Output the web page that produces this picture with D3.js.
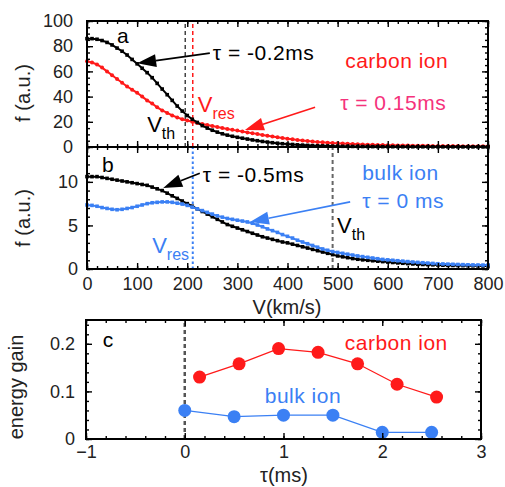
<!DOCTYPE html>
<html>
<head>
<meta charset="utf-8">
<script src="https://cdn.jsdelivr.net/npm/d3@7"></script>
<style>
  body { margin: 0; background: #fff; }
  svg { font-family: "Liberation Sans", Arial, Helvetica, sans-serif; }
</style>
</head>
<body>
<svg id="chart" width="505" height="487"></svg>
<script>
// ---------------- data ----------------
// velocity grid (km/s), one sample every 10 km/s
const velocity = d3.range(0, 801, 10);

// panel a : carbon ion distribution
const aBlack = [86, 86, 85.5, 84.5, 83, 81, 78.5, 76, 73, 69.5,
  66, 62.5, 59, 55, 50.5, 46, 41.5, 37, 32.5, 28.5,
  25, 22, 19.5, 17, 15, 13.3, 11.8, 10.5, 9.4, 8.5,
  7.7, 7, 6.3, 5.6, 5, 4.4, 3.9, 3.4, 3, 2.6,
  2.3, 2, 1.7, 1.5, 1.3, 1.1, 1, 0.9, 0.8, 0.7,
  0.6, 0.55, 0.5, 0.45, 0.4, 0.38, 0.35, 0.32, 0.3, 0.28,
  0.26, 0.25, 0.24, 0.23, 0.22, 0.21, 0.2, 0.19, 0.18, 0.17,
  0.16, 0.15, 0.15, 0.14, 0.14, 0.13, 0.13, 0.12, 0.12, 0.11, 0.11];
const aRed = [68, 67, 65.5, 63, 60, 57, 54, 51, 48, 45.5,
  43, 40, 37, 34.5, 31.5, 29, 27, 25, 23.5, 22,
  21, 20, 19, 18.2, 17.4, 16.6, 15.8, 15, 14.3, 13.6,
  13, 12.3, 11.6, 11, 10.3, 9.6, 9, 8.4, 7.8, 7.2,
  6.6, 6.1, 5.6, 5.2, 4.8, 4.4, 4, 3.7, 3.4, 3.1,
  2.9, 2.7, 2.5, 2.3, 2.1, 1.95, 1.8, 1.7, 1.6, 1.5,
  1.4, 1.3, 1.2, 1.15, 1.1, 1.05, 1, 0.95, 0.9, 0.85,
  0.8, 0.78, 0.75, 0.72, 0.7, 0.68, 0.65, 0.62, 0.6, 0.58, 0.55];

// panel b : bulk ion distribution
const bBlack = [10.6, 10.6, 10.6, 10.5, 10.4, 10.3, 10.2, 10.1, 10.0, 9.9,
  9.8, 9.7, 9.6, 9.4, 9.2, 9.0, 8.7, 8.4, 8.1, 7.8,
  7.5, 7.2, 6.9, 6.6, 6.3, 6.0, 5.7, 5.4, 5.1, 4.9,
  4.7, 4.5, 4.3, 4.1, 3.9, 3.7, 3.55, 3.4, 3.25, 3.1,
  3.0, 2.85, 2.7, 2.55, 2.4, 2.25, 2.1, 1.95, 1.8, 1.65,
  1.5, 1.4, 1.3, 1.2, 1.12, 1.05, 1.0, 0.95, 0.9, 0.85,
  0.8, 0.75, 0.7, 0.66, 0.62, 0.58, 0.55, 0.52, 0.5, 0.48,
  0.46, 0.44, 0.42, 0.41, 0.4, 0.39, 0.38, 0.37, 0.36, 0.35, 0.35];
const bBlue = [7.35, 7.3, 7.2, 7.05, 6.95, 6.85, 6.8, 6.85, 6.95, 7.05,
  7.2, 7.35, 7.5, 7.6, 7.65, 7.7, 7.7, 7.65, 7.55, 7.45,
  7.3, 7.1, 6.9, 6.7, 6.5, 6.3, 6.1, 5.95, 5.8, 5.7,
  5.6, 5.5, 5.4, 5.25, 5.05, 4.85, 4.6, 4.4, 4.2, 3.95,
  3.75, 3.55, 3.3, 3.1, 2.9, 2.7, 2.5, 2.3, 2.15, 2.0,
  1.9, 1.8, 1.7, 1.6, 1.5, 1.42, 1.34, 1.26, 1.18, 1.1,
  1.05, 1.0, 0.95, 0.9, 0.85, 0.8, 0.76, 0.72, 0.68, 0.64,
  0.6, 0.58, 0.56, 0.54, 0.52, 0.5, 0.48, 0.47, 0.46, 0.45, 0.45];

// panel c : energy gain vs delay
const tauCarbon = [0.15, 0.55, 0.95, 1.35, 1.75, 2.15, 2.55];
const gainCarbon = [0.13, 0.158, 0.19, 0.182, 0.158, 0.115, 0.088];
const tauBulk = [0, 0.5, 1, 1.5, 2, 2.5];
const gainBulk = [0.06, 0.047, 0.05, 0.05, 0.014, 0.014];

// reference velocities (km/s)
const vThA = 196, vResA = 211, vResB = 211, vThB = 490;

// ---------------- colours ----------------
const RED = "#ff1a1a", BLUE = "#3b80f4", PINK = "#f5327c", DASH = "#444";

const svg = d3.select("#chart");

// ---------------- scales ----------------
const xV = d3.scaleLinear().domain([0, 800]).range([87, 488]);
const yA = d3.scaleLinear().domain([0, 100]).range([147, 21]);
const yB = d3.scaleLinear().domain([0, 14]).range([269, 147]);
const xT = d3.scaleLinear().domain([-1, 3]).range([86, 481]);
const yC = d3.scaleLinear().domain([0, 0.25]).range([439, 320]);

// ---------------- axes helpers ----------------
const range = (a, b, s) => d3.range(a, b + s / 2, s).map((d) => +d.toFixed(4));

const drawAxes = (x, y, opt) => {
  const g = svg.append("g").attr("class", "axes");
  const [x0, x1] = x.range();
  const [y0, y1] = y.range();
  const sides = [
    { gen: d3.axisBottom, pos: `translate(0,${y0})`, sc: x, major: opt.xMajor, minor: opt.xMinor, lab: opt.xLab, fmt: opt.xFmt, pad: opt.xPad },
    { gen: d3.axisTop, pos: `translate(0,${y1})`, sc: x, major: opt.xMajor, minor: opt.xMinor, lab: false },
    { gen: d3.axisLeft, pos: `translate(${x0},0)`, sc: y, major: opt.yMajor, minor: opt.yMinor, lab: true, fmt: opt.yFmt, pad: opt.yPad },
    { gen: d3.axisRight, pos: `translate(${x1},0)`, sc: y, major: opt.yMajor, minor: opt.yMinor, lab: false },
  ];
  sides.forEach((s) => {
    const minor = g.append("g").attr("transform", s.pos)
      .call(s.gen(s.sc).tickValues(s.minor).tickSize(-3).tickFormat(""));
    const major = g.append("g").attr("transform", s.pos)
      .call(s.gen(s.sc).tickValues(s.major).tickSize(-6)
        .tickPadding(s.pad || 0).tickFormat(s.lab ? s.fmt || d3.format("") : ""));
    [minor, major].forEach((a) => {
      a.select(".domain").remove();
      a.selectAll("line").attr("stroke", "#000").attr("stroke-width", 1.4);
      a.selectAll("text").attr("fill", "#222").style("font-size", "18px");
    });
  });
  g.append("rect")
    .attr("x", x0).attr("y", y1)
    .attr("width", x1 - x0).attr("height", y0 - y1)
    .attr("fill", "none").attr("stroke", "#000").attr("stroke-width", 2);
};

const vLine = (x, y, v, color, dash, w) => {
  svg.append("line")
    .attr("x1", x(v)).attr("x2", x(v))
    .attr("y1", y.range()[0]).attr("y2", y.range()[1])
    .attr("stroke", color).attr("stroke-width", w).attr("stroke-dasharray", dash);
};

const arrow = (x1, y1, x2, y2, color) => {
  // line with a filled triangular head at (x2, y2)
  const ang = Math.atan2(y2 - y1, x2 - x1);
  const L = 19, W = 6.5;
  const bx = x2 - L * Math.cos(ang), by = y2 - L * Math.sin(ang);
  svg.append("line")
    .attr("x1", x1).attr("y1", y1).attr("x2", bx).attr("y2", by)
    .attr("stroke", color).attr("stroke-width", 1.6);
  const pts = [
    [x2, y2],
    [bx + W * Math.sin(ang), by - W * Math.cos(ang)],
    [bx - W * Math.sin(ang), by + W * Math.cos(ang)],
  ];
  svg.append("polygon").attr("points", pts.map((p) => p.join(",")).join(" ")).attr("fill", color);
};

const label = (x, y, txt, color, size) => {
  return svg.append("text").attr("x", x).attr("y", y)
    .attr("fill", color).style("font-size", (size || 21) + "px")
    .style("letter-spacing", "0.5px").text(txt);
};

const vSub = (x, y, main, sub, color) => {
  const t = svg.append("text").attr("x", x).attr("y", y).attr("fill", color).style("font-size", "22px");
  t.append("tspan").text(main);
  t.append("tspan").attr("dy", 7).style("font-size", "16px").text(sub);
};

const curve = (x, y, vals, color, marker) => {
  const pts = velocity.map((v, i) => [v, vals[i]]);
  svg.append("path").datum(pts)
    .attr("fill", "none").attr("stroke", color).attr("stroke-width", 2)
    .attr("d", d3.line().x((d) => x(d[0])).y((d) => y(d[1])));
  const s = 3.6;
  if (marker === "square") {
    svg.append("g").selectAll("rect").data(pts).join("rect")
      .attr("x", (d) => x(d[0]) - s / 2).attr("y", (d) => y(d[1]) - s / 2)
      .attr("width", s).attr("height", s).attr("fill", color);
  } else {
    svg.append("g").selectAll("circle").data(pts).join("circle")
      .attr("cx", (d) => x(d[0])).attr("cy", (d) => y(d[1])).attr("r", 2).attr("fill", color);
  }
};

// ---------------- panel a ----------------
vLine(xV, yA, vThA, DASH, "4,3", 1.5);
vLine(xV, yA, vResA, RED, "4,3", 1.5);
curve(xV, yA, aRed, RED, "circle");
curve(xV, yA, aBlack, "#000", "square");
drawAxes(xV, yA, {
  xMajor: range(0, 800, 100), xMinor: range(0, 800, 20), xLab: false,
  yMajor: range(0, 100, 20), yMinor: range(0, 100, 5), yPad: 14,
});
label(xV(60), yA(82.5), "a", "#000");
label(xV(251), yA(69), "τ = -0.2ms", "#000");
arrow(xV(245), yA(74.5), xV(100), yA(66.5), "#000");
label(xV(515), yA(62.5), "carbon ion", RED);
label(xV(505), yA(29.5), "τ = 0.15ms", PINK);
arrow(xV(455), yA(31.5), xV(315), yA(13.5), RED);
vSub(xV(221), yA(27.5), "V", "res", RED);
vSub(xV(120), yA(12), "V", "th", "#000");

// ---------------- panel b ----------------
vLine(xV, yB, vResB, BLUE, "2.5,2.5", 2);
vLine(xV, yB, vThB, "#666", "4,3", 2);
curve(xV, yB, bBlack, "#000", "square");
curve(xV, yB, bBlue, BLUE, "square");
drawAxes(xV, yB, {
  xMajor: range(0, 800, 100), xMinor: range(0, 800, 20), xLab: true, xPad: 8,
  yMajor: range(0, 10, 5), yMinor: range(0, 14, 1), yPad: 9,
});
label(xV(30), yB(11.1), "b", "#000");
label(xV(231), yB(10), "τ = -0.5ms", "#000");
arrow(xV(225), yB(11), xV(152), yB(9.3), "#000");
label(xV(549), yB(10.2), "bulk ion", BLUE);
label(xV(549), yB(7), "τ = 0 ms", BLUE);
arrow(xV(525), yB(7.7), xV(325), yB(5.4), BLUE);
vSub(xV(130), yB(1.85), "V", "res", BLUE);
vSub(xV(499), yB(4.1), "V", "th", "#000");

// ---------------- panel c ----------------
vLine(xT, yC, 0, "#555", "4,3", 2.5);
[[tauCarbon, gainCarbon, RED], [tauBulk, gainBulk, BLUE]].forEach(([tx, gy, col]) => {
  const pts = tx.map((t, i) => [t, gy[i]]);
  svg.append("path").datum(pts)
    .attr("fill", "none").attr("stroke", col).attr("stroke-width", 1.3)
    .attr("d", d3.line().x((d) => xT(d[0])).y((d) => yC(d[1])));
  svg.append("g").selectAll("circle").data(pts).join("circle")
    .attr("cx", (d) => xT(d[0])).attr("cy", (d) => yC(d[1]))
    .attr("r", 6.5).attr("fill", col);
});
drawAxes(xT, yC, {
  xMajor: range(-1, 3, 1), xMinor: range(-1, 3, 0.2), xLab: true, xPad: 6,
  yMajor: range(0, 0.2, 0.1), yMinor: range(0, 0.24, 0.02), yPad: 11,
  yFmt: (d) => (d === 0 ? "0" : d3.format(".1f")(d)),
});
label(xT(-0.83), yC(0.193), "c", "#000");
label(xT(1.62), yC(0.187), "carbon ion", RED);
label(xT(0.81), yC(0.076), "bulk ion", BLUE);

// ---------------- axis titles ----------------
const rotLabel = (x, y, txt) => {
  svg.append("text").attr("transform", `translate(${x},${y}) rotate(-90)`)
    .attr("text-anchor", "middle").attr("fill", "#222").style("font-size", "20px").text(txt);
};
rotLabel(30, 93, "f (a.u.)");
rotLabel(30, 218, "f (a.u.)");
rotLabel(23, 387, "energy gain");
svg.append("text").attr("x", 287).attr("y", 314).attr("text-anchor", "middle")
  .attr("fill", "#222").style("font-size", "20px").text("V(km/s)");
svg.append("text").attr("x", 284).attr("y", 482).attr("text-anchor", "middle")
  .attr("fill", "#222").style("font-size", "20px").text("τ(ms)");
</script>
</body>
</html>
